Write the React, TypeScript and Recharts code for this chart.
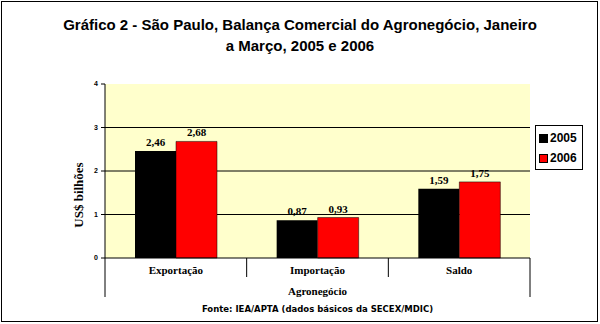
import React from "react";
import { BarChart, Bar, XAxis, YAxis, CartesianGrid, Legend, LabelList } from "recharts";

const categories = ["Exportação", "Importação", "Saldo"];
const values2005 = [2.46, 0.87, 1.59];
const values2006 = [2.68, 0.93, 1.75];
const yTicks = [0, 1, 2, 3, 4];
const gridValues = [1, 2, 3];
const seriesNames = ["2005", "2006"];
const seriesColors = ["#000000", "#FF0000"];

const data = categories.map((c, i) => ({ name: c, v2005: values2005[i], v2006: values2006[i] }));

const W = 600;
const H = 324;
const X_AXIS_H = 30;
const Y_AXIS_W = 30;
const M = { top: 84, right: 70, bottom: 66 - X_AXIS_H, left: 75 };
const plotLeft = M.left + Y_AXIS_W;
const plotWidth = W - plotLeft - M.right;
const halfBand = plotWidth / categories.length / 2;

const serif = "'Liberation Serif', 'Times New Roman', serif";
const sans = "'Liberation Sans', Arial, sans-serif";

const fmt = (v: number) => v.toFixed(2).replace(".", ",");

const XTick = (props: any) => {
  const { x, y, payload, index } = props;
  const last = index === categories.length - 1;
  return (
    <g>
      <line x1={x - halfBand} x2={x - halfBand} y1={y} y2={index === 0 ? y + 39 : y + 19} stroke="#000" strokeWidth={1} />
      {last && <line x1={x + halfBand} x2={x + halfBand} y1={y} y2={y + 39} stroke="#000" strokeWidth={1} />}
      <text x={x} y={y + 16} textAnchor="middle" fontFamily={serif} fontWeight="bold" fontSize={11} fill="#000">
        {payload.value}
      </text>
    </g>
  );
};

const YLabel = (props: any) => {
  const vb = props.viewBox || {};
  const cx = (vb.x ?? M.left) + 3;
  const cy = (vb.y ?? M.top) + (vb.height ?? 174) / 2 + 24;
  return (
    <text x={cx} y={cy} transform={`rotate(-90 ${cx} ${cy})`} textAnchor="middle" dominantBaseline="central"
      fontFamily={serif} fontWeight="bold" fontSize={13} fill="#000">
      US$ bilhões
    </text>
  );
};

const LegendBox = () => (
  <div
    style={{
      border: "1px solid #000",
      background: "#fff",
      width: 46,
      height: 41,
      boxSizing: "content-box",
      fontFamily: sans,
      fontWeight: "bold",
      fontSize: 12,
      color: "#000",
      paddingTop: 2,
    }}
  >
    {seriesNames.map((n, i) => (
      <div key={n} style={{ display: "flex", alignItems: "center", height: 20, paddingLeft: 3 }}>
        <span style={{ display: "inline-block", width: 7, height: 7, background: seriesColors[i], border: "1px solid #000", marginRight: 2 }} />
        <span>{n}</span>
      </div>
    ))}
  </div>
);

export default function App() {
  return (
    <div style={{ position: "absolute", left: 0, top: 0, width: W, height: H, background: "#fff" }}>
      <BarChart width={W} height={H} data={data} margin={M} barGap={0}>
        <CartesianGrid
          fill="#FFFFCC"
          fillOpacity={1}
          vertical={false}
          stroke="#000"
          horizontalValues={gridValues}
        />
        <YAxis
          width={Y_AXIS_W}
          domain={[0, 4]}
          ticks={yTicks}
          interval={0}
          axisLine={{ stroke: "#000" }}
          tickLine={{ stroke: "#000" }}
          tickSize={4}
          tickMargin={3}
          tick={{ fontFamily: sans, fontWeight: "bold", fontSize: 7, fill: "#000" }}
          label={{ content: <YLabel /> }}
        />
        <XAxis
          dataKey="name"
          height={X_AXIS_H}
          axisLine={{ stroke: "#000" }}
          tickLine={false}
          tickSize={0}
          tickMargin={0}
          interval={0}
          tick={<XTick />}
        />
        <Legend
          layout="vertical"
          align="center"
          verticalAlign="middle"
          content={<LegendBox />}
          wrapperStyle={{ position: "absolute", left: 535, top: 125, width: 48 }}
        />
        <Bar dataKey="v2005" name={seriesNames[0]} fill={seriesColors[0]} barSize={41} isAnimationActive={false}>
          <LabelList dataKey="v2005" position="top" offset={5} formatter={(v: any) => fmt(Number(v))}
            style={{ fontFamily: serif, fontWeight: "bold", fontSize: 11, fill: "#000" }} />
        </Bar>
        <Bar dataKey="v2006" name={seriesNames[1]} fill={seriesColors[1]} stroke="#000" strokeWidth={0.5} barSize={41} isAnimationActive={false}>
          <LabelList dataKey="v2006" position="top" offset={5} formatter={(v: any) => fmt(Number(v))}
            style={{ fontFamily: serif, fontWeight: "bold", fontSize: 11, fill: "#000" }} />
        </Bar>
      </BarChart>
      <svg width={W} height={H} style={{ position: "absolute", left: 0, top: 0, pointerEvents: "none" }}>
        <rect x={1.5} y={1.5} width={596} height={320} fill="none" stroke="#000" strokeWidth={1} />
        <text x={300} y={30} textAnchor="middle" fontFamily={sans} fontWeight="bold" fontSize={15} fill="#000">
          Gráfico 2 - São Paulo, Balança Comercial do Agronegócio, Janeiro
        </text>
        <text x={300} y={51} textAnchor="middle" fontFamily={sans} fontWeight="bold" fontSize={15} fill="#000">
          a Março, 2005 e 2006
        </text>
        <text x={plotLeft + plotWidth / 2} y={295} textAnchor="middle" fontFamily={serif} fontWeight="bold" fontSize={11} fill="#000">
          Agronegócio
        </text>
        <text x={plotLeft + plotWidth / 2} y={312} textAnchor="middle" fontFamily="'DejaVu Sans', sans-serif" fontWeight="bold" fontSize={8.5} fill="#000">
          Fonte: IEA/APTA (dados básicos da SECEX/MDIC)
        </text>
      </svg>
    </div>
  );
}
